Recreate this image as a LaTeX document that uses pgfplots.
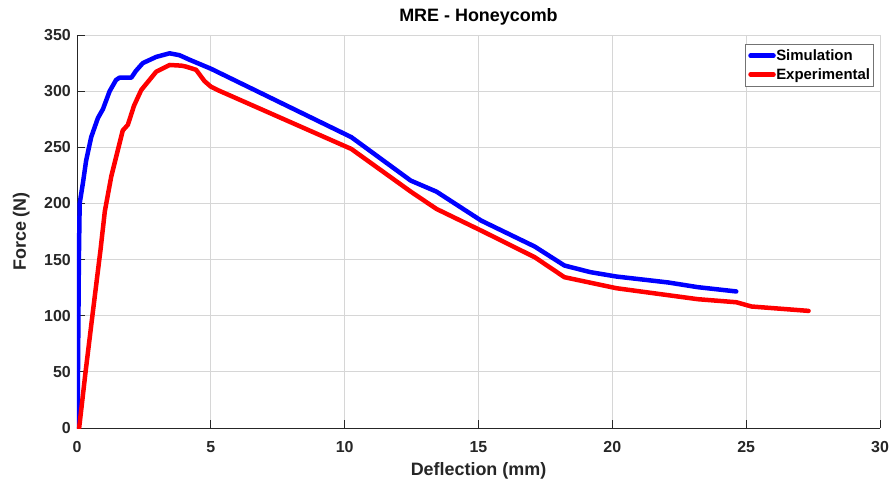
\documentclass[border=0pt]{standalone}
\usepackage{fontspec}
\setmainfont{Liberation Sans}
\usepackage{pgfplots}
\pgfplotsset{compat=1.18}
\definecolor{axgray}{RGB}{38,38,38}
\definecolor{mblue}{RGB}{0,0,255}
\definecolor{mred}{RGB}{255,0,0}
\begin{document}
\begin{tikzpicture}
\path[use as bounding box] (-77bp,-51bp) rectangle (814bp,428bp);
\begin{axis}[
  at={(0,0)}, anchor=south west,
  scale only axis, width=803bp, height=393bp,
  xmin=0, xmax=30, ymin=0, ymax=350,
  xtick={0,5,...,30}, ytick={0,50,...,350},
  axis x line*=bottom, axis y line*=left,
  axis line style={axgray, line width=0.9bp},
  tick style={axgray, line width=0.9bp},
  major tick length=8bp, tick align=inside,
  grid=major,
  major grid style={black!16, line width=0.8bp},
  /pgf/number format/assume math mode=true,
  ticklabel style={font=\bfseries\fontsize{16}{16}\selectfont, text=axgray},
  xticklabel style={anchor=base, yshift=-24bp, inner sep=0pt},
  yticklabel style={anchor=east, inner sep=0pt, xshift=-6bp},
  title={MRE - Honeycomb},
  title style={at={([yshift=7.7bp]axis description cs:0.5,1)}, anchor=base, font=\bfseries\fontsize{18}{18}\selectfont, inner sep=0pt},
  xlabel={Deflection (mm)},
  xlabel style={at={([yshift=-47bp]axis description cs:0.5,0)}, anchor=base, font=\bfseries\fontsize{18}{18}\selectfont, text=axgray, inner sep=0pt},
  ylabel={Force (N)},
  ylabel style={at={([xshift=-51bp]axis description cs:0,0.5)}, anchor=base, rotate=0, font=\bfseries\fontsize{18}{18}\selectfont, text=axgray, inner sep=0pt},
  legend style={at={(0.9925,0.978)}, anchor=north east, draw=black!55, line width=0.7bp,
    font=\bfseries\fontsize{15}{15}\selectfont, inner xsep=3bp, inner ysep=4bp,
    row sep=3.5bp, cells={anchor=west}, nodes={inner xsep=0.5bp, inner ysep=1.5bp}},
  legend image code/.code={\draw[#1, line width=4.5bp] (0bp,0bp) -- (23bp,0bp);},
  every axis plot/.append style={line width=4.5bp, line join=round, line cap=round},
]
\addplot[mblue] coordinates {
(0.02,0) (0.07,150) (0.1,200) (0.22,218) (0.34,238) (0.53,259) (0.78,276) (0.97,284)
(1.22,300) (1.46,310) (1.59,312) (2.03,312) (2.2,318) (2.46,325) (2.96,330.5)
(3.46,333.7) (3.83,332) (4.2,328) (5,320) (10.25,259) (12.47,220.3) (13.43,210.5)
(15.1,184.7) (17.1,161.6) (18.21,144.7) (19.18,138.8) (20.15,134.9) (22.09,129.6)
(23.2,125.4) (24.63,121.6)
};
\addlegendentry{Simulation}
\addplot[mred] coordinates {
(0.08,0) (0.32,50) (0.57,99) (0.88,159) (1.04,193) (1.28,224) (1.5,245) (1.71,265)
(1.9,270) (2.13,287) (2.4,301) (2.96,317.3) (3.46,323.3) (3.9,322.7) (4.08,321.8)
(4.45,319) (4.76,309) (5.0,304) (5.3,300.5) (10.25,248.5) (12.47,210.5) (13.43,195.1)
(15.1,175.8) (17.1,152.1) (18.21,134.3) (20.15,124.5) (23.2,114.7) (24.63,112)
(25.2,108.2) (27.33,104.3)
};
\addlegendentry{Experimental}
\end{axis}
\end{tikzpicture}
\end{document}
